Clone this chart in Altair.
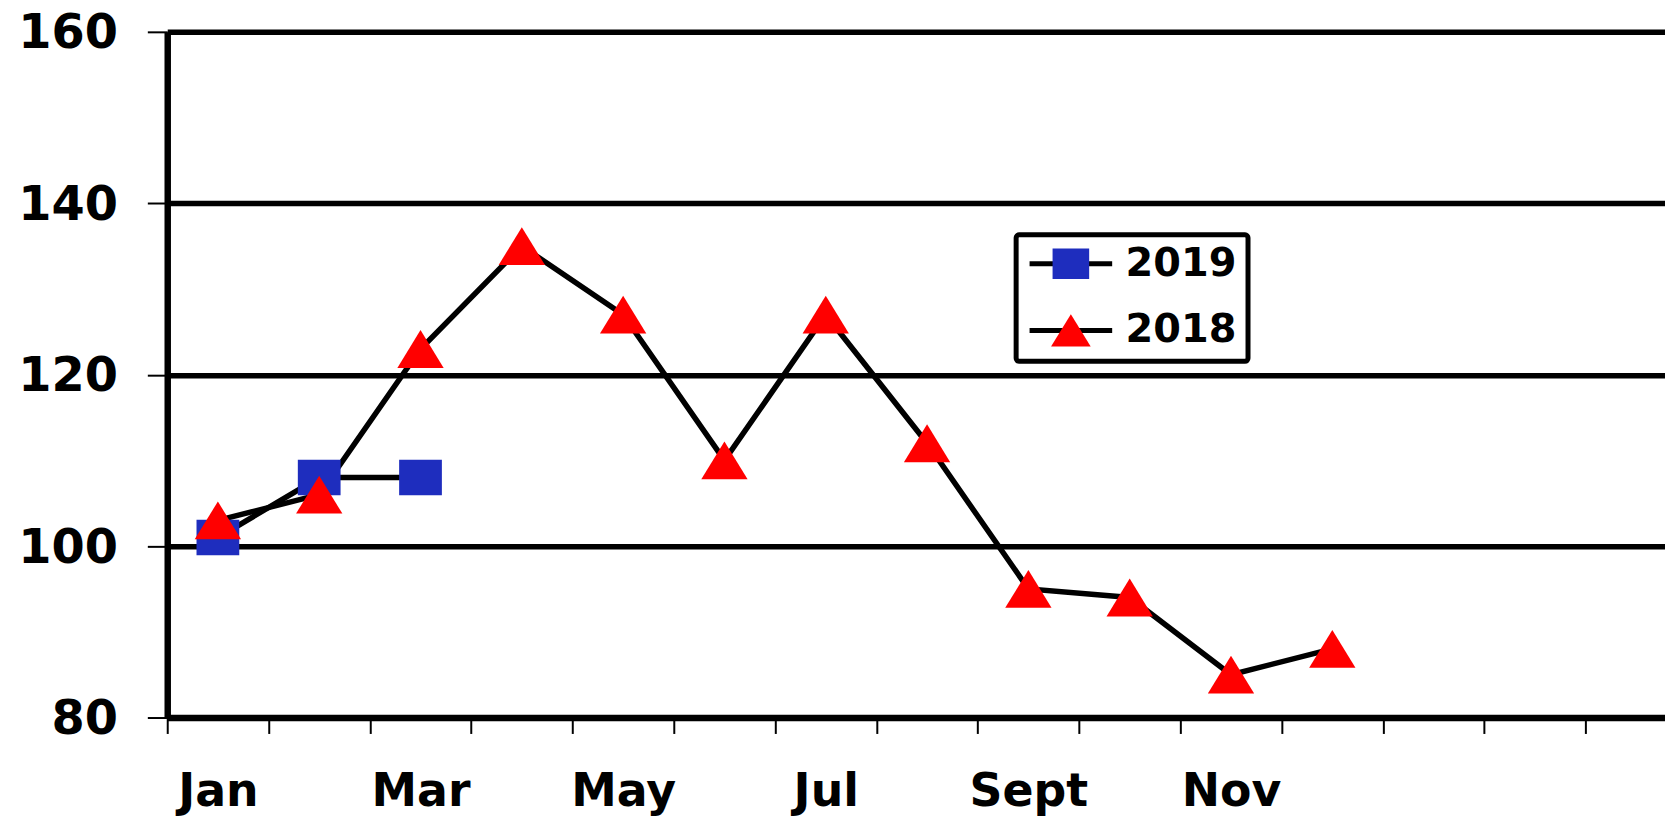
import json
import altair as alt
import pandas as pd

# ---- data ----
months = ["Jan", "Feb", "Mar", "Apr", "May", "Jun", "Jul", "Aug", "Sept", "Oct", "Nov", "Dec"]
blank_slots = [" ", "  ", "   "]          # empty categories to the right of Dec
shown_labels = ["Jan", "Mar", "May", "Jul", "Sept", "Nov"]
series_names = ["2019", "2018"]
values_2019 = [101, 108, 108]
values_2018 = [103, 106, 123, 135, 127, 110, 127, 112, 95, 94, 85, 88]
y_ticks = [80, 100, 120, 140, 160]

rows = []
for m, v in zip(months, values_2019):
    rows.append({"month": m, "value": v, "year": "2019"})
for m, v in zip(months, values_2018):
    rows.append({"month": m, "value": v, "year": "2018"})
df = pd.DataFrame(rows)
df["series"] = df["year"]

FONT = "DejaVu Sans"
BAND = 101.8
x_domain = months + blank_slots

SQUARE = "M-0.443,-0.367H0.443V0.367H-0.443Z"
TRIANGLE = "M0,-0.392L0.48,0.392L-0.48,0.392Z"

label_expr = "indexof(" + json.dumps(shown_labels) + ", datum.label) >= 0 ? datum.label : ''"

x_enc = alt.X(
    "month:N",
    scale=alt.Scale(type="band", domain=x_domain, range=[0, BAND * len(x_domain)],
                    paddingInner=0, paddingOuter=0),
    axis=alt.Axis(title=None, tickBand="extent", labelExpr=label_expr, labelAngle=0,
                  labelFont=FONT, labelFontWeight="bold", labelFontSize=46, labelColor="black",
                  labelPadding=36, tickSize=16, tickWidth=2, tickColor="black",
                  domainColor="black", domainWidth=6.5, grid=False),
)
y_enc = alt.Y(
    "value:Q",
    scale=alt.Scale(domain=[80, 160], nice=False, zero=False),
    axis=alt.Axis(title=None, values=y_ticks, grid=True, gridColor="black", gridWidth=5.5,
                  gridOpacity=1, domainColor="black", domainWidth=6.5, tickColor="black",
                  tickWidth=2, tickSize=20, labelFont=FONT, labelFontWeight="bold",
                  labelFontSize=48, labelColor="black", labelPadding=30, labelOffset=2),
)

LEG_X = 853
LEG_Y = 204

lines = alt.Chart(df).mark_line(strokeWidth=5.5).encode(
    x=x_enc,
    y=y_enc,
    stroke=alt.Stroke(
        "series:N", sort="descending",
        scale=alt.Scale(range=["black", "black"]),
        legend=alt.Legend(title=None, orient="none", legendX=LEG_X, legendY=LEG_Y,
                          symbolType="stroke", strokeColor="black", labelOpacity=0,
                          symbolStrokeColor="black"),
    ),
)

point_legend = alt.Legend(title=None, orient="none", legendX=LEG_X, legendY=LEG_Y,
                          symbolStrokeColor="transparent", symbolOpacity=1)

points = alt.Chart(df).mark_point(filled=True, opacity=1, size=9400, strokeWidth=0).encode(
    x=x_enc,
    y=y_enc,
    color=alt.Color("year:N", scale=alt.Scale(domain=series_names, range=["#1E2DBE", "#FF0000"]),
                    legend=point_legend),
    shape=alt.Shape("year:N", scale=alt.Scale(domain=series_names, range=[SQUARE, TRIANGLE]),
                    legend=point_legend),
)

chart = alt.layer(lines, points).properties(
    width=1505, height=689,
    autosize=alt.AutoSizeParams(type="none"),
    padding={"left": 160, "top": 22, "right": 0, "bottom": 98},
    background="white",
).configure_view(strokeWidth=0).configure_legend(
    padding=11, clipHeight=36, rowPadding=27, labelOffset=11,
    symbolSize=6889, symbolStrokeWidth=5,
    labelFont=FONT, labelFontSize=40, labelFontWeight="bold", labelColor="black",
    strokeWidth=5, cornerRadius=3, labelLimit=0,
)

chart.save("out.html", embed_options={"renderer": "svg", "actions": False})
